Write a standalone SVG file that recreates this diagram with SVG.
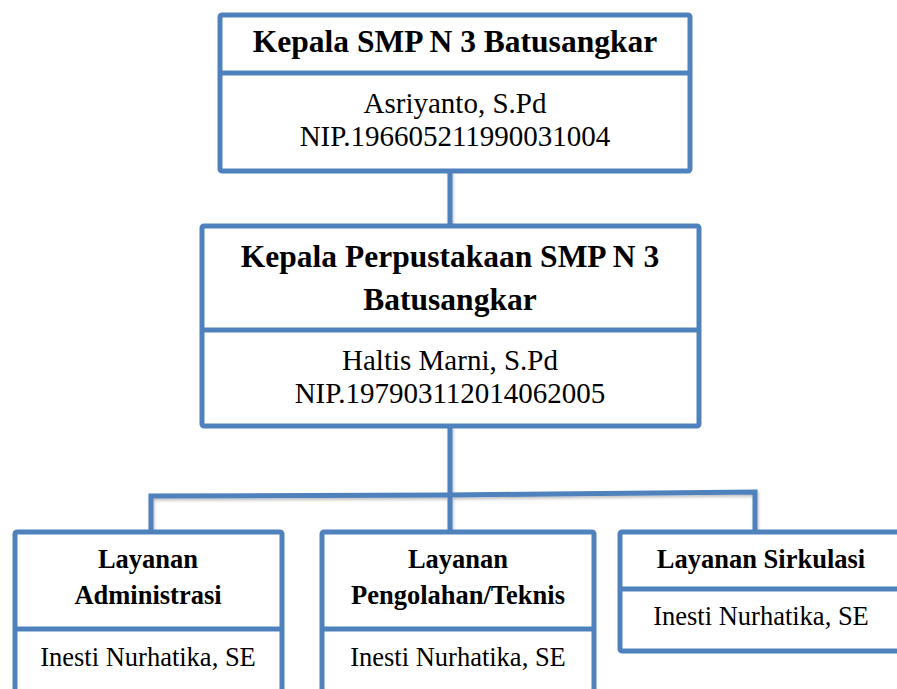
<svg xmlns="http://www.w3.org/2000/svg" width="897" height="689" viewBox="0 0 897 689">
<style>
.box{fill:#fff;stroke:#4F81BD;stroke-width:5;stroke-linejoin:round}
.div{stroke:#4F81BD;stroke-width:5;fill:none}
.con{stroke:#4F81BD;stroke-width:5;fill:none;stroke-linejoin:miter}
.b{font-family:"Liberation Serif","Times New Roman",serif;font-weight:bold;fill:#000;text-anchor:middle}
.r{font-family:"Liberation Serif","Times New Roman",serif;fill:#000;text-anchor:middle}
</style>
<defs>
<filter id="sh" x="-10%" y="-10%" width="120%" height="120%">
<feDropShadow dx="1" dy="2" stdDeviation="1.5" flood-color="#000" flood-opacity="0.25"/>
</filter>
</defs>
<g id="connectors" filter="url(#sh)">
<path class="con" d="M450,171 L450,226"/>
<path class="con" d="M450,426 L450,532"/>
<path class="con" d="M151,532 L151,496 L450,495 L755,492 L755,532"/>
</g>
<g id="kepala-sekolah">
<rect class="box" x="220" y="15" width="470" height="156" rx="2"/>
<line class="div" x1="220" y1="73" x2="690" y2="73"/>
<text class="b" x="455" y="52" font-size="31.5">Kepala SMP N 3 Batusangkar</text>
<text class="r" x="455" y="113" font-size="29">Asriyanto, S.Pd</text>
<text class="r" x="455" y="146" font-size="29">NIP.196605211990031004</text>
</g>
<g id="kepala-perpustakaan">
<rect class="box" x="202" y="226" width="497" height="200" rx="2"/>
<line class="div" x1="202" y1="330" x2="699" y2="330"/>
<text class="b" x="450" y="267" font-size="31.5">Kepala Perpustakaan SMP N 3</text>
<text class="b" x="450" y="310" font-size="31.5">Batusangkar</text>
<text class="r" x="450" y="370" font-size="29">Haltis Marni, S.Pd</text>
<text class="r" x="450" y="403" font-size="29">NIP.197903112014062005</text>
</g>
<g id="layanan-administrasi">
<rect class="box" x="15" y="532" width="267" height="180" rx="2"/>
<line class="div" x1="15" y1="629" x2="282" y2="629"/>
<text class="b" x="148" y="568" font-size="26.5">Layanan</text>
<text class="b" x="148" y="604" font-size="26.5">Administrasi</text>
<text class="r" x="148" y="666" font-size="26.5">Inesti Nurhatika, SE</text>
</g>
<g id="layanan-pengolahan">
<rect class="box" x="322" y="532" width="272" height="180" rx="2"/>
<line class="div" x1="322" y1="629" x2="594" y2="629"/>
<text class="b" x="458" y="568" font-size="26.5">Layanan</text>
<text class="b" x="458" y="604" font-size="26.5">Pengolahan/Teknis</text>
<text class="r" x="458" y="666" font-size="26.5">Inesti Nurhatika, SE</text>
</g>
<g id="layanan-sirkulasi">
<rect class="box" x="620" y="532" width="284" height="119" rx="2"/>
<line class="div" x1="620" y1="589" x2="904" y2="589"/>
<text class="b" x="761" y="568" font-size="26.5">Layanan Sirkulasi</text>
<text class="r" x="761" y="625" font-size="26.5">Inesti Nurhatika, SE</text>
</g>
</svg>
